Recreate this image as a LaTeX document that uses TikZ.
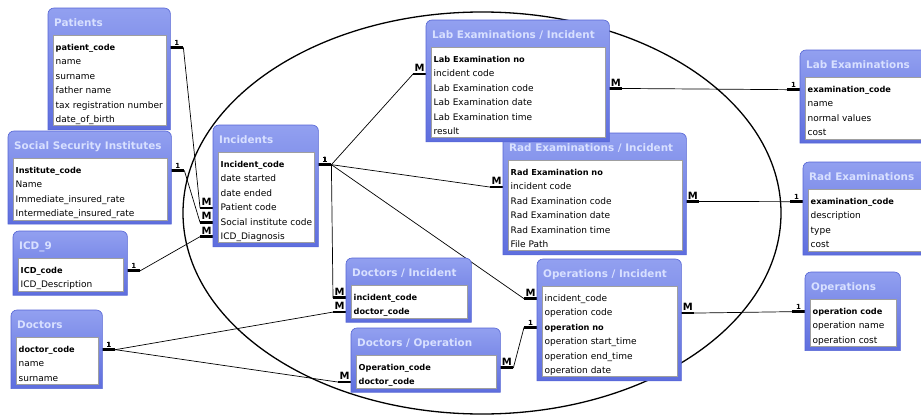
\documentclass[tikz,border=0pt]{standalone}
\usepackage{fontspec}
\setmainfont{DejaVu Sans}
\usetikzlibrary{backgrounds}

\definecolor{tblhi}{RGB}{146,160,240}
\definecolor{tbllo}{RGB}{94,110,222}
\definecolor{tblrim}{RGB}{84,100,212}
\definecolor{tbltitle}{RGB}{216,224,255}

\newcommand{\key}{\fontsize{8.2}{10}\selectfont\bfseries}
\newcommand{\one}{{\fontsize{7}{7}\selectfont 1}}

% table: id, top left corner, width, number of fields, title, fields
\newcommand{\dbtable}[6]{%
  \node[tblframe, minimum width=#3, minimum height={35+14.4*#4}, anchor=north west] (#1) at (#2) {};
  \path[tbl] (#1.south west) -- ([yshift=-6pt]#1.north west) arc[start angle=180, end angle=90, radius=6pt]
    -- ([xshift=-6pt]#1.north east) arc[start angle=90, end angle=0, radius=6pt] -- (#1.south east) -- cycle;
  \node[ttl, anchor=base west] at ([xshift=6pt, yshift=-18pt]#1.north west) {#5};
  \node[lst, minimum width={#3-9}, minimum height={14.4*#4+4}, anchor=north west] (#1-l) at ([xshift=4.5pt, yshift=-27pt]#1.north west) {};
  \foreach \f [count=\i] in {#6}
    \node[fld, anchor=base west] (#1-\i) at ([xshift=3pt, yshift={-14.4*\i-1}]#1-l.north west) {\f};
}

% relationship: from, to, cardinality at from, cardinality at to
\newcommand{\relate}[4]{%
  \coordinate (rs) at (#1);
  \coordinate (rt) at (#2);
  \draw[rel] (rs) -- ++(13,0) -- ([xshift=-13pt]rt) -- (rt);
  \draw[stub] (rs) -- ++(13,0) node[card, midway, above] {#3};
  \draw[stub] (rt) -- ++(-13,0) node[card, midway, above] {#4};
}

\begin{document}
\begin{tikzpicture}[x=1pt, y=-1pt,
    tblframe/.style={rectangle, inner sep=0pt},
    tbl/.style={top color=tblhi, bottom color=tbllo, draw=tblrim, line width=0.6pt},
    ttl/.style={font=\bfseries\fontsize{10.4}{12}\selectfont, text=tbltitle, inner sep=0pt},
    lst/.style={rectangle, fill=white, draw=gray!75, line width=0.8pt, inner sep=0pt},
    fld/.style={font=\fontsize{9}{11}\selectfont, inner sep=0pt},
    rel/.style={line width=0.7pt},
    stub/.style={line width=2.6pt},
    card/.style={font=\bfseries\fontsize{10}{10}\selectfont, inner sep=1pt},
    rim/.style={line width=1.3pt}
  ]
  \useasboundingbox (0,0) rectangle (921,415);

  % Lookup tables on the left
  \dbtable{pat}{48,8}{122}{6}{Patients}{{\key patient\_code},name,surname,father name,tax registration number,date\_of\_birth}
  \dbtable{ssi}{8,131}{163}{4}{Social Security Institutes}{{\key Institute\_code},Name,Immediate\_insured\_rate,Intermediate\_insured\_rate}
  \dbtable{icd}{13,231}{114}{2}{ICD\_9}{{\key ICD\_code},ICD\_Description}
  \dbtable{doc}{11,310}{91}{3}{Doctors}{{\key doctor\_code},name,surname}

  % Incident and its detail tables
  \dbtable{inc}{213,125}{105}{6}{Incidents}{{\key Incident\_code},date started,date ended,Patient code,Social institute code,ICD\_Diagnosis}
  \dbtable{radinc}{503,133}{183}{6}{Rad Examinations / Incident}{{\key Rad Examination no},incident code,Rad Examination code,Rad Examination date,Rad Examination time,File Path}
  \dbtable{labinc}{426,20}{183}{6}{Lab Examinations / Incident}{{\key Lab Examination no},incident code,Lab Examination code,Lab Examination date,Lab Examination time,result}
  \dbtable{docinc}{346,258}{125}{2}{Doctors / Incident}{{\key incident\_code},{\key doctor\_code}}
  \dbtable{docop}{351,328}{149}{2}{Doctors / Operation}{{\key Operation\_code},{\key doctor\_code}}
  \dbtable{opinc}{537,259}{144}{6}{Operations / Incident}{incident\_code,operation code,{\key operation no},operation start\_time,operation end\_time,operation date}

  % Catalogues on the right
  \dbtable{lab}{800,50}{130}{4}{Lab Examinations}{{\key examination\_code},name,normal values,cost}
  \dbtable{rad}{803,162}{130}{4}{Rad Examinations}{{\key examination\_code},description,type,cost}
  \dbtable{ops}{805,272}{95}{3}{Operations}{{\key operation code},operation name,operation cost}

  \begin{pgfonlayer}{background}
    \draw[rim] (482,213) ellipse [x radius=299, y radius=201];

    % Relationships
    \relate{pat.east |- pat-1.mid}{inc.west |- inc-4.mid}{\one}{M}
    \relate{ssi.east |- ssi-1.mid}{inc.west |- inc-5.mid}{\one}{M}
    \relate{icd.east |- icd-1.mid}{inc.west |- inc-6.mid}{\one}{M}

    \relate{inc.east |- inc-1.mid}{labinc.west |- labinc-2.mid}{\one}{M}
    \relate{inc.east |- inc-1.mid}{radinc.west |- radinc-2.mid}{\one}{M}
    \relate{inc.east |- inc-1.mid}{docinc.west |- docinc-1.mid}{\one}{M}
    \relate{inc.east |- inc-1.mid}{opinc.west |- opinc-1.mid}{\one}{M}

    \relate{doc.east |- doc-1.mid}{docinc.west |- docinc-2.mid}{\one}{M}
    \relate{doc.east |- doc-1.mid}{docop.west |- docop-2.mid}{\one}{M}
    \relate{docop.east |- docop-1.mid}{opinc.west |- opinc-3.mid}{M}{\one}

    \relate{labinc.east |- labinc-3.mid}{lab.west |- lab-1.mid}{M}{\one}
    \relate{radinc.east |- radinc-3.mid}{rad.west |- rad-1.mid}{M}{\one}
    \relate{opinc.east |- opinc-2.mid}{ops.west |- ops-1.mid}{M}{\one}
  \end{pgfonlayer}
\end{tikzpicture}
\end{document}
